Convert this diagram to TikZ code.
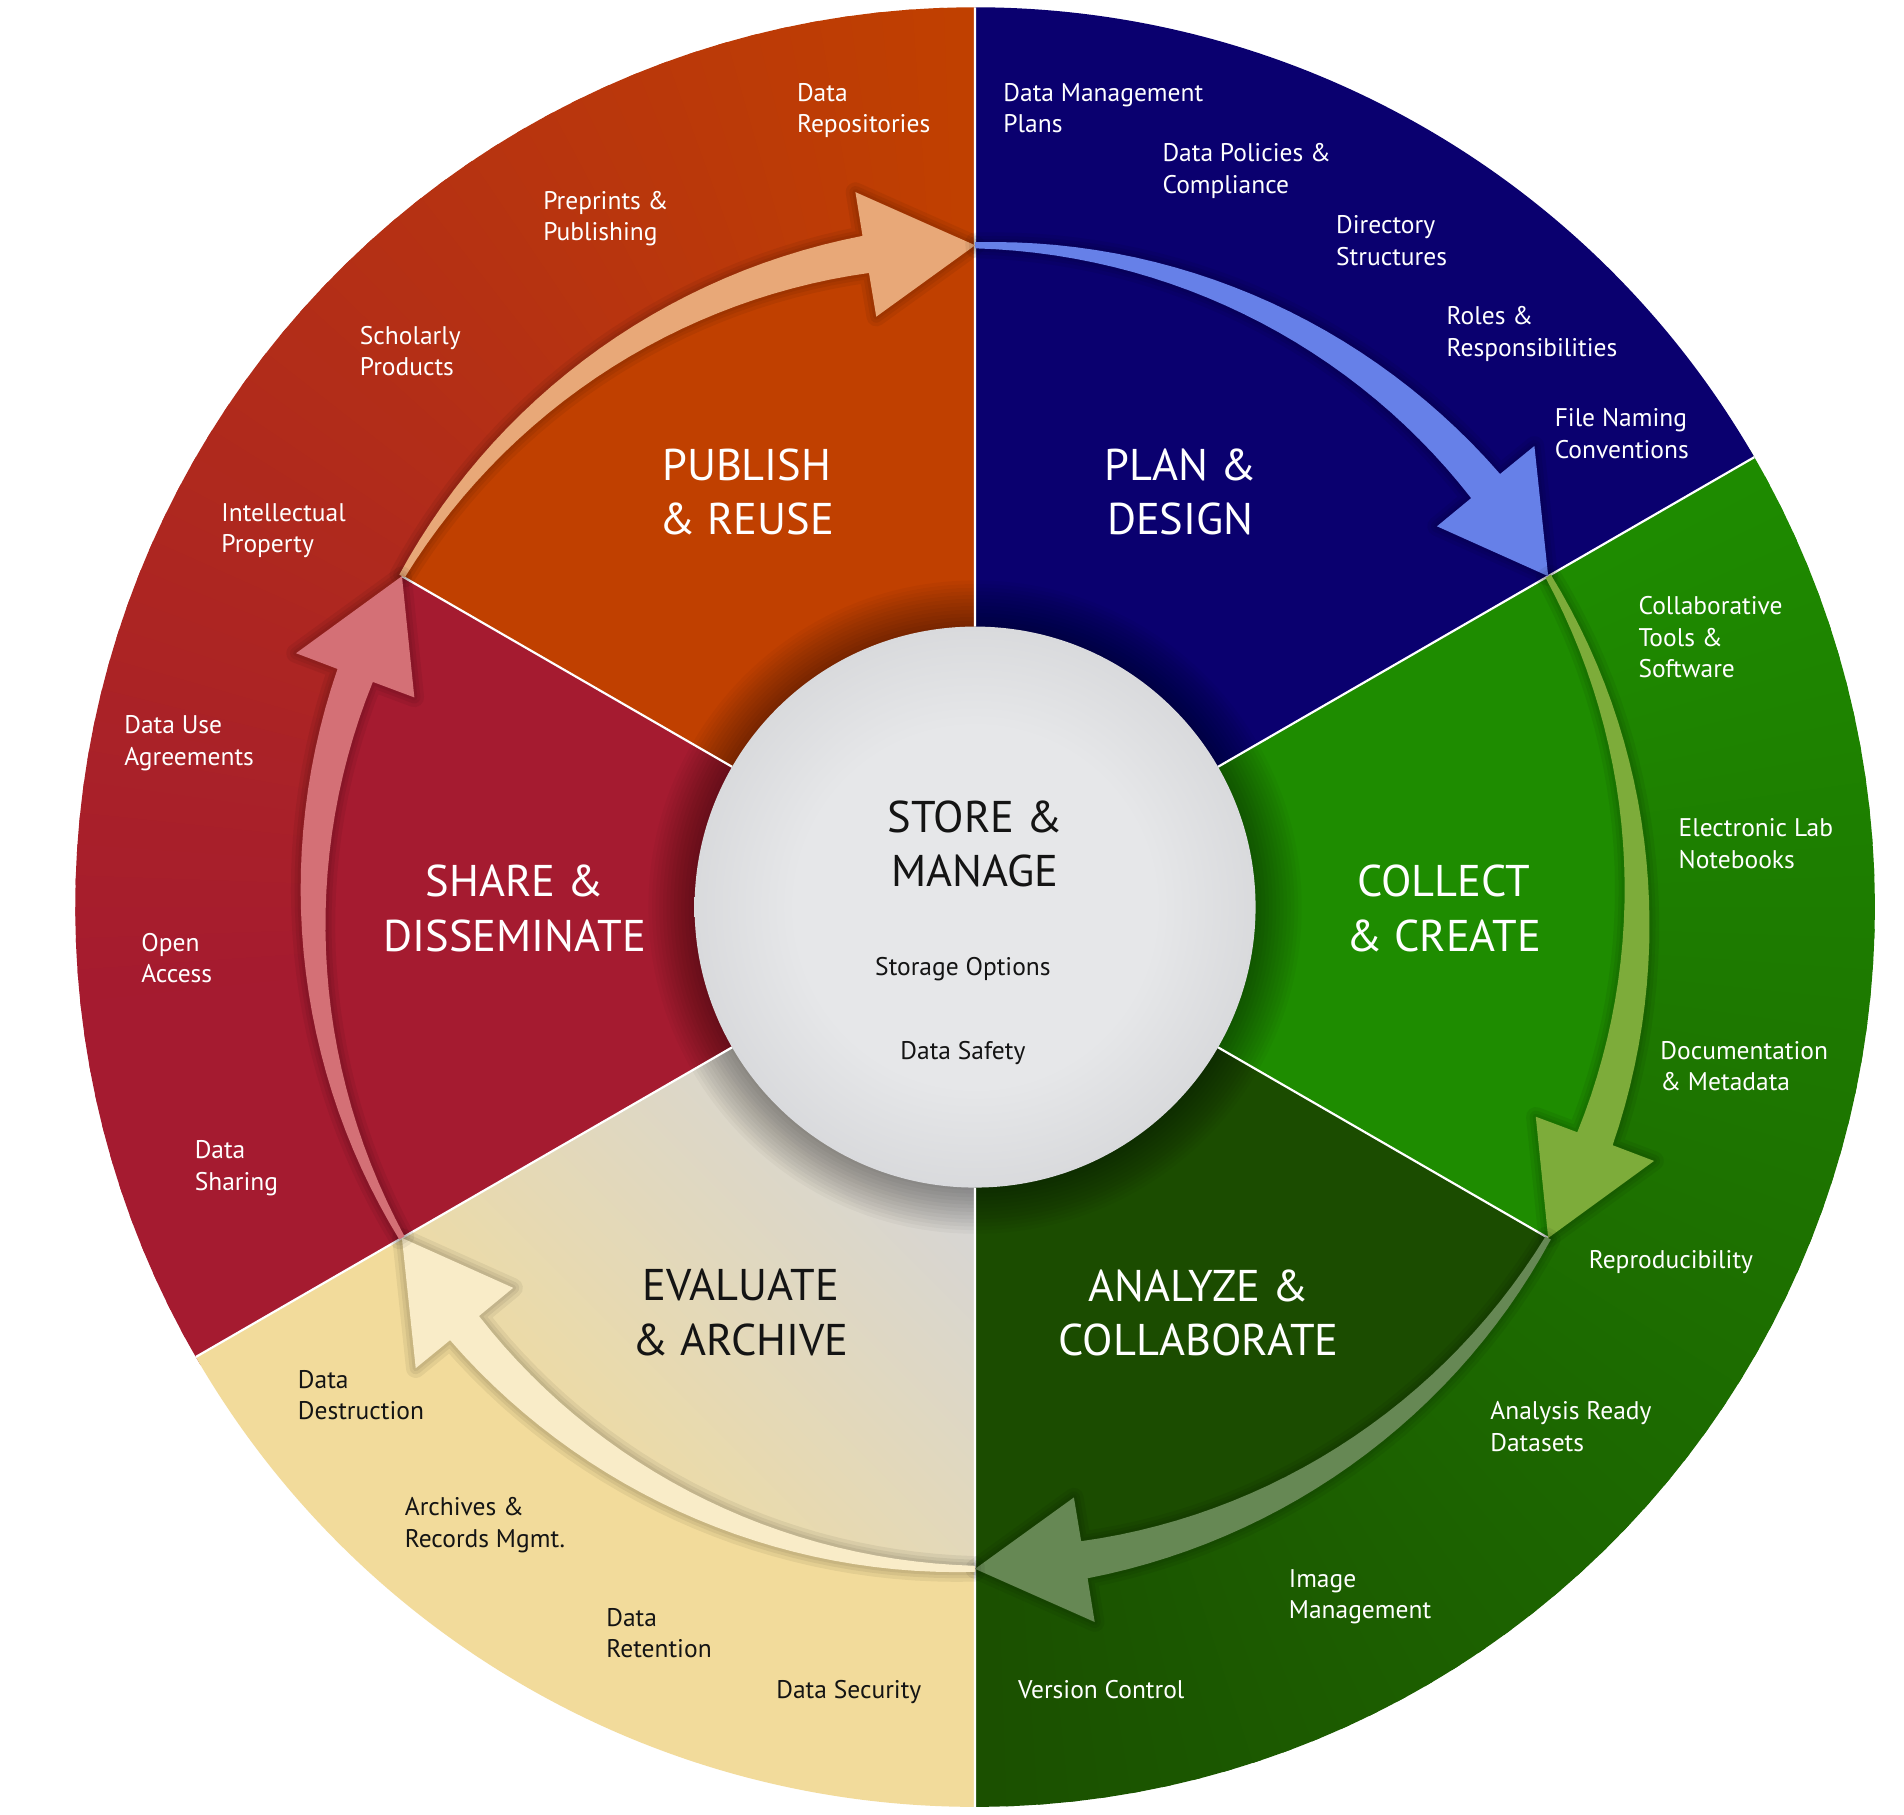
\documentclass[tikz,border=0pt]{standalone}
\usepackage{fontspec}
\setmainfont{PT Sans}
\usetikzlibrary{positioning}
\definecolor{pubcol}{HTML}{C04000}
\definecolor{plancol}{HTML}{0A006F}
\definecolor{colcol}{HTML}{1E8C00}
\definecolor{anacol}{HTML}{1B4C00}
\definecolor{ringdark}{HTML}{1B5000}
\definecolor{shcol}{HTML}{A51B30}
\definecolor{tancol}{HTML}{F2DB9B}
\definecolor{evgray}{HTML}{D4D5DA}
\definecolor{evbeige}{HTML}{EEDBA2}
\definecolor{pubarr}{HTML}{E8A878}
\definecolor{planarr}{HTML}{6680E8}
\definecolor{colarr}{HTML}{7DAC3A}
\definecolor{anaarr}{HTML}{668854}
\definecolor{evarr}{HTML}{F9ECC8}
\definecolor{sharr}{HTML}{D47076}
\definecolor{ballA}{HTML}{E6E7E9}
\definecolor{ballB}{HTML}{C9CACD}
\definecolor{ballC}{HTML}{A9ABAF}
\definecolor{ballD}{HTML}{8E9094}
\definecolor{inktxt}{HTML}{141414}
\pgfdeclareradialshading{storeball}{\pgfpoint{0bp}{0bp}}{color(0bp)=(ballA);color(16bp)=(ballA);color(36bp)=(ballB);color(47bp)=(ballC);color(50bp)=(ballD)}
\pgfdeclareverticalshading{evalshade}{100bp}{color(0bp)=(evbeige);color(30bp)=(evbeige);color(72bp)=(evgray);color(100bp)=(evgray)}
\newcommand{\cyclearrow}[1]{plot[domain=0:1,samples=30] ({#1-50.5*\x}:{547.5+13*\x}) -- ({#1-50.5}:597) -- ({#1-60}:545) -- ({#1-50.5}:493) -- plot[domain=0:1,samples=30] ({#1-50.5*(1-\x)}:{529.5+13*\x}) -- cycle}
\tikzset{seplin/.style={draw=white,line width=0.9pt},lbl/.style={anchor=north west,align=left,inner sep=0pt,text=white,font=\fontsize{10.5}{13}\selectfont},dlbl/.style={lbl,text=inktxt},ttl/.style={align=center,inner sep=0pt,text=white,font=\fontsize{18.3}{22.4}\selectfont},halo/.style={draw=black,opacity=0.06,line join=round,line width=#1}}
\begin{document}
\begin{tikzpicture}[x=0.5pt,y=0.5pt]
\useasboundingbox (-803,-747) rectangle (765,747);
\fill[white] (-803,-747) rectangle (765,747);
% outer ring
\foreach \a in {90,92,...,208}{\pgfmathsetmacro\p{min(100,(\a-90)*100/95)}\fill[shcol!\p!pubcol] (0,0) -- (\a:741) arc[start angle=\a,end angle=\a+2.6,radius=741] -- cycle;}
\foreach \a in {-90,-88,...,28}{\pgfmathsetmacro\p{(\a+90)*100/120}\fill[colcol!\p!ringdark] (0,0) -- (\a:741) arc[start angle=\a,end angle=\a+2.6,radius=741] -- cycle;}
\fill[tancol] (0,0) -- (-150:741) arc[start angle=-150,end angle=-90,radius=741] -- cycle;
\fill[plancol] (0,0) -- (30:741) arc[start angle=30,end angle=90,radius=741] -- cycle;
% inner sectors
\fill[pubcol] (0,0) -- (90:545) arc[start angle=90,end angle=150,radius=545] -- cycle;
\fill[plancol] (0,0) -- (30:545) arc[start angle=30,end angle=90,radius=545] -- cycle;
\fill[colcol] (0,0) -- (-30:545) arc[start angle=-30,end angle=30,radius=545] -- cycle;
\fill[anacol] (0,0) -- (-90:545) arc[start angle=-90,end angle=-30,radius=545] -- cycle;
\shade[shading=evalshade,shading angle=-45] (0,0) -- (-150:545) arc[start angle=-150,end angle=-90,radius=545] -- cycle;
\fill[shcol] (0,0) -- (150:545) arc[start angle=150,end angle=210,radius=545] -- cycle;
\foreach \rr in {233,236,...,269}{\fill[black,opacity=0.03] (0,0) circle (\rr);}
\draw[seplin] (90:231) -- (90:741) (30:231) -- (30:741) (-90:231) -- (-90:741) (-150:231) -- (-150:741);
\draw[seplin] (150:231) -- (150:545) (-30:231) -- (-30:545);
% arrows
\foreach \a/\col in {150/pubarr,90/planarr,30/colarr,-30/anaarr,-90/evarr,-150/sharr}{
\draw[halo=8pt] \cyclearrow{\a};\draw[halo=5pt] \cyclearrow{\a};\draw[halo=2.5pt] \cyclearrow{\a};\fill[\col] \cyclearrow{\a};}
% centre
\shade[shading=storeball] (0,0) circle (231);
\node[ttl,text=inktxt] (store) at (0,52) {STORE \&\\MANAGE};
\node[dlbl,anchor=center] (storage) at (-10,-51) {Storage Options};
\node[dlbl,anchor=center] (safety) at (-10,-120) {Data Safety};
% stage titles
\node[ttl] (publish) at (-188,342) {PUBLISH\\\& REUSE};
\node[ttl] (plan) at (169,342) {PLAN \&\\DESIGN};
\node[ttl] (collect) at (386,-1) {COLLECT\\\& CREATE};
\node[ttl] (analyze) at (184,-334) {ANALYZE \&\\COLLABORATE};
\node[ttl,text=inktxt] (evaluate) at (-193,-334) {EVALUATE\\\& ARCHIVE};
\node[ttl] (share) at (-379,-1) {SHARE \&\\DISSEMINATE};
% ring labels
\node[lbl] (repos) at (-147,679) {Data\\Repositories};
\node[lbl] (preprints) at (-356,590) {Preprints \&\\Publishing};
\node[lbl] (scholarly) at (-507,479) {Scholarly\\Products};
\node[lbl] (intprop) at (-621,333) {Intellectual\\Property};
\node[lbl] (dua) at (-701,158) {Data Use\\Agreements};
\node[lbl] (openacc) at (-687,-21) {Open\\Access};
\node[lbl] (sharing) at (-643,-192) {Data\\Sharing};
\node[dlbl] (destruct) at (-558,-381) {Data\\Destruction};
\node[dlbl] (archives) at (-470,-486) {Archives \&\\Records Mgmt.};
\node[dlbl] (retention) at (-304,-577) {Data\\Retention};
\node[dlbl] (security) at (-164,-636) {Data Security};
\node[lbl] (version) at (35,-636) {Version Control};
\node[lbl] (image) at (258,-545) {Image\\Management};
\node[lbl] (ready) at (424,-407) {Analysis Ready\\Datasets};
\node[lbl] (repro) at (505,-282) {Reproducibility};
\node[lbl] (docmeta) at (564,-110) {Documentation\\\& Metadata};
\node[lbl] (eln) at (579,73) {Electronic Lab\\Notebooks};
\node[lbl] (collab) at (546,256) {Collaborative\\Tools \&\\Software};
\node[lbl] (naming) at (477,411) {File Naming\\Conventions};
\node[lbl] (roles) at (388,495) {Roles \&\\Responsibilities};
\node[lbl] (dirs) at (297,570) {Directory\\Structures};
\node[lbl] (policies) at (154,629) {Data Policies \&\\Compliance};
\node[lbl] (dmp) at (23,679) {Data Management\\Plans};
\end{tikzpicture}
\end{document}
